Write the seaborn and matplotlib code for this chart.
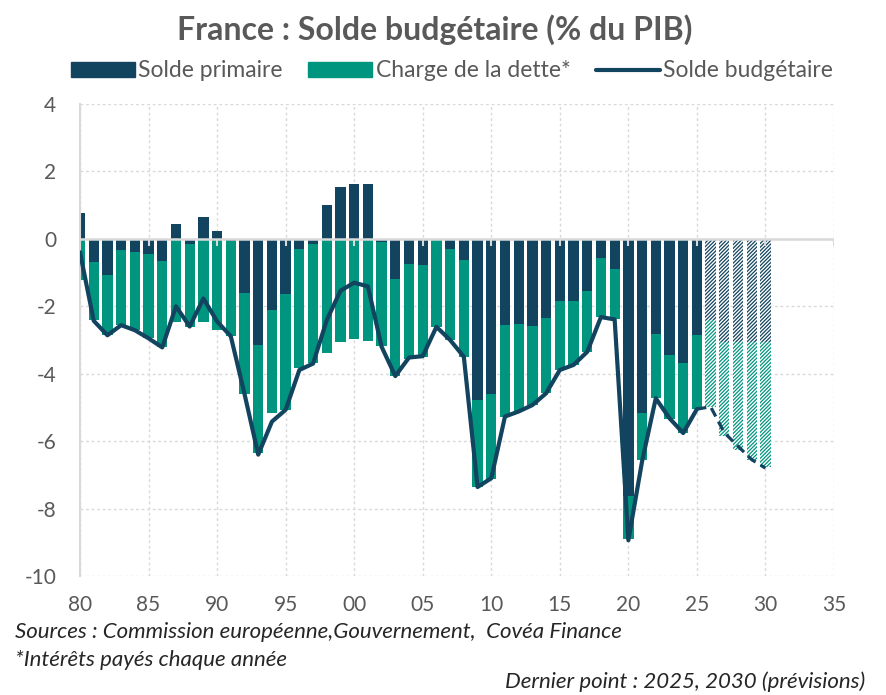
import numpy as np
import pandas as pd
import matplotlib.pyplot as plt
from matplotlib.patches import Patch
from matplotlib.lines import Line2D
import seaborn as sns

# Data (% du PIB)
years = list(range(1980, 2031))
primaire = [0.77, -0.70, -1.08, -0.34, -0.40, -0.44, -0.65, 0.44, -0.16, 0.66,
            0.23, -0.05, -1.60, -3.15, -2.10, -1.65, -0.29, -0.14, 0.99, 1.53,
            1.63, 1.62, -0.10, -1.20, -0.76, -0.79, -0.03, -0.30, -0.62, -4.77,
            -4.60, -2.57, -2.54, -2.59, -2.36, -1.85, -1.85, -1.56, -0.56, -0.89,
            -7.62, -5.17, -2.81, -3.45, -3.69, -2.86,
            -2.41, -3.05, -3.05, -3.05, -3.05]
charge = [-1.23, -1.71, -1.78, -2.22, -2.31, -2.51, -2.57, -2.46, -2.45, -2.46,
          -2.69, -2.84, -3.00, -3.20, -3.07, -3.42, -3.55, -3.55, -3.38, -3.07,
          -2.96, -3.03, -3.08, -2.87, -2.80, -2.72, -2.58, -2.69, -2.88, -2.59,
          -2.52, -2.72, -2.58, -2.34, -2.22, -2.04, -1.89, -1.79, -1.76, -1.50,
          -1.28, -1.38, -1.92, -1.90, -2.07, -2.19,
          -2.59, -2.81, -3.21, -3.50, -3.73]
solde_years = list(range(1980, 2026))
solde = [-0.40, -2.43, -2.86, -2.56, -2.71, -2.95, -3.22, -2.00, -2.60, -1.77,
         -2.45, -2.89, -4.60, -6.40, -5.42, -5.07, -3.89, -3.70, -2.41, -1.54,
         -1.30, -1.41, -3.20, -4.07, -3.52, -3.48, -2.61, -3.00, -3.50, -7.36,
         -7.10, -5.27, -5.12, -4.93, -4.58, -3.89, -3.74, -3.35, -2.32, -2.39,
         -8.94, -6.60, -4.73, -5.32, -5.76, -5.05]
prev_years = list(range(2025, 2031))
solde_prev = [-5.05, -4.98, -5.75, -6.15, -6.55, -6.80]
first_prev = 2026

navy = '#12435F'
green = '#00957F'
grey_txt = '#595959'
grid_c = '#D9D9D9'

sns.set_style('white')
plt.rcParams['font.family'] = ['Lato', 'DejaVu Sans']
plt.rcParams['hatch.linewidth'] = 0.9
plt.rcParams['axes.unicode_minus'] = False

fig = plt.figure(figsize=(8.86, 6.95), dpi=100)
ax = fig.add_axes([0.0903, 0.1712, 0.851, 0.6792])

df = pd.DataFrame({'annee': years, 'primaire': primaire, 'charge': charge})
df['bas'] = df['primaire'].clip(upper=0)
hist = df[df['annee'] < first_prev]
prev = df[df['annee'] >= first_prev]

w = 0.75
ax.bar(hist['annee'], hist['primaire'], width=w, color=navy, lw=0, zorder=2)
ax.bar(hist['annee'], hist['charge'], bottom=hist['bas'], width=w, color=green, lw=0, zorder=2)
ax.bar(prev['annee'], prev['primaire'], width=w, facecolor='white', edgecolor=navy,
       hatch='/////////', lw=0, zorder=2)
ax.bar(prev['annee'], prev['charge'], bottom=prev['bas'], width=w, facecolor='white',
       edgecolor=green, hatch='/////////', lw=0, zorder=2)

sns.lineplot(x=solde_years, y=solde, ax=ax, color=navy, lw=3.0, zorder=4,
             solid_joinstyle='round')
sns.lineplot(x=prev_years, y=solde_prev, ax=ax, color=navy, lw=2.3, zorder=4,
             linestyle=(0, (3, 1.8)))

# axes, grid
ax.set_xlim(1980, 2035)
ax.set_ylim(-10, 4)
xticks = list(range(1980, 2036, 5))
ax.set_xticks(xticks)
ax.set_xticklabels([f'{t % 100:02d}' for t in xticks])
ax.set_yticks(range(-10, 5, 2))
ax.grid(True, color=grid_c, lw=1, linestyle=(0, (2, 2)), zorder=0)
ax.set_axisbelow(True)
for s in ['top', 'right', 'bottom']:
    ax.spines[s].set_visible(False)
ax.spines['left'].set_color(grid_c)
ax.spines['left'].set_linewidth(1.5)
ax.axhline(0, color=grid_c, lw=1.8, zorder=3)
ax.vlines(xticks, -0.22, 0, color=grid_c, lw=1.5, zorder=3)

ax.tick_params(axis='x', length=0, pad=14, labelsize=15, labelcolor=grey_txt)
ax.tick_params(axis='y', length=5, width=1.5, color=grid_c, pad=12,
               labelsize=15, labelcolor=grey_txt)
ax.set_xlabel('')
ax.set_ylabel('')

# title, legend, notes
fig.text(0.491, 0.957, 'France : Solde budgétaire (% du PIB)', ha='center', va='center',
         fontsize=23, fontweight='bold', color=grey_txt)

handles = [Patch(color=navy, label='Solde primaire'),
           Patch(color=green, label='Charge de la dette*'),
           Line2D([0], [0], color=navy, lw=3, label='Solde budgétaire')]
leg = fig.legend(handles=handles, loc='center', bbox_to_anchor=(0.51, 0.898), ncol=3,
                 frameon=False, fontsize=16.5, handlelength=2.8, handleheight=0.6,
                 handletextpad=0.15, columnspacing=1.1)
for t in leg.get_texts():
    t.set_color(grey_txt)

fig.text(0.017, 0.091, 'Sources : Commission européenne,Gouvernement,  Covéa Finance',
         fontsize=16, style='italic', color='#262626', va='center')
fig.text(0.017, 0.050, '*Intérêts payés chaque année',
         fontsize=16, style='italic', color='#262626', va='center')
fig.text(0.977, 0.019, 'Dernier point : 2025, 2030 (prévisions)',
         fontsize=16, style='italic', color='#262626', va='center', ha='right')

fig.savefig('out.png', dpi=100)
